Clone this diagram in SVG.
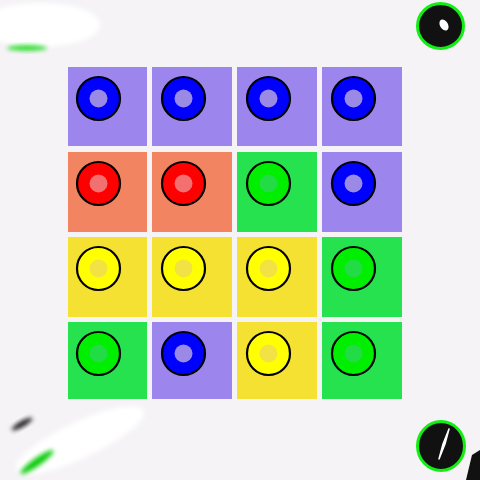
<svg xmlns="http://www.w3.org/2000/svg" width="480" height="480" viewBox="0 0 480 480">
<style>
.cb{fill:#9c86ee}.cr{fill:#f28462}.cg{fill:#26e24e}.cy{fill:#f5e132}
.ring{stroke:#000;stroke-width:2.2}
.pb{fill:#0000ff}.pr{fill:#ff0000}.pg{fill:#00ee00}.py{fill:#ffff00}
.ib{fill:#9a8ae6}.ir{fill:#f27070}.ig{fill:#22dc46}.iy{fill:#f2e244}
</style>
<defs>
<filter id="blur" x="-50%" y="-50%" width="200%" height="200%"><feGaussianBlur stdDeviation="2"/></filter>
</defs>
<rect width="480" height="480" fill="#f5f3f6"/>
<ellipse cx="40" cy="25" rx="60" ry="22" fill="#ffffff" filter="url(#blur)"/>
<ellipse cx="80" cy="440" rx="70" ry="18" fill="#ffffff" filter="url(#blur)" transform="rotate(-25 80 440)"/>
<!-- corner marks -->
<ellipse cx="27" cy="48" rx="20" ry="3" fill="#22dd22" filter="url(#blur)" opacity="0.9"/>
<ellipse cx="22" cy="424" rx="12" ry="3" fill="#222" transform="rotate(-30 22 424)" filter="url(#blur)"/>
<ellipse cx="37" cy="462" rx="20" ry="4" fill="#11cc11" transform="rotate(-35 37 462)" filter="url(#blur)"/>
<g id="eye-top">
<ellipse cx="440.5" cy="26" rx="23" ry="22.5" fill="#111" stroke="#11ee11" stroke-width="3"/>
<ellipse cx="444" cy="25" rx="4" ry="6" fill="#fff" transform="rotate(-30 444 25)"/>
</g>
<g id="eye-bottom">
<ellipse cx="441" cy="446" rx="23.5" ry="24.5" fill="#111" stroke="#11ee11" stroke-width="3"/>
<path d="M449 429 L445 444 L439 459 L443 444 Z" fill="#fff" stroke="#fff" stroke-width="1.5" stroke-linejoin="round"/>
</g>
<path d="M472 455 L480 450 L480 480 L466 480 Z" fill="#111"/>
<!-- row 1 -->
<g id="c11"><rect class="cb" x="68" y="67" width="79" height="79"/><circle class="pb ring" cx="98.5" cy="98.5" r="21.5"/><circle class="ib" cx="98.5" cy="98.5" r="9"/></g>
<g id="c12"><rect class="cb" x="152" y="67" width="80" height="79"/><circle class="pb ring" cx="183.5" cy="98.5" r="21.5"/><circle class="ib" cx="183.5" cy="98.5" r="9"/></g>
<g id="c13"><rect class="cb" x="237" y="67" width="80" height="79"/><circle class="pb ring" cx="268.5" cy="98.5" r="21.5"/><circle class="ib" cx="268.5" cy="98.5" r="9"/></g>
<g id="c14"><rect class="cb" x="322" y="67" width="80" height="79"/><circle class="pb ring" cx="353.5" cy="98.5" r="21.5"/><circle class="ib" cx="353.5" cy="98.5" r="9"/></g>
<!-- row 2 -->
<g id="c21"><rect class="cr" x="68" y="152" width="79" height="80"/><circle class="pr ring" cx="98.5" cy="183.5" r="21.5"/><circle class="ir" cx="98.5" cy="183.5" r="9"/></g>
<g id="c22"><rect class="cr" x="152" y="152" width="80" height="80"/><circle class="pr ring" cx="183.5" cy="183.5" r="21.5"/><circle class="ir" cx="183.5" cy="183.5" r="9"/></g>
<g id="c23"><rect class="cg" x="237" y="152" width="80" height="80"/><circle class="pg ring" cx="268.5" cy="183.5" r="21.5"/><circle class="ig" cx="268.5" cy="183.5" r="9"/></g>
<g id="c24"><rect class="cb" x="322" y="152" width="80" height="80"/><circle class="pb ring" cx="353.5" cy="183.5" r="21.5"/><circle class="ib" cx="353.5" cy="183.5" r="9"/></g>
<!-- row 3 -->
<g id="c31"><rect class="cy" x="68" y="237" width="79" height="80"/><circle class="py ring" cx="98.5" cy="268.5" r="21.5"/><circle class="iy" cx="98.5" cy="268.5" r="9"/></g>
<g id="c32"><rect class="cy" x="152" y="237" width="80" height="80"/><circle class="py ring" cx="183.5" cy="268.5" r="21.5"/><circle class="iy" cx="183.5" cy="268.5" r="9"/></g>
<g id="c33"><rect class="cy" x="237" y="237" width="80" height="80"/><circle class="py ring" cx="268.5" cy="268.5" r="21.5"/><circle class="iy" cx="268.5" cy="268.5" r="9"/></g>
<g id="c34"><rect class="cg" x="322" y="237" width="80" height="80"/><circle class="pg ring" cx="353.5" cy="268.5" r="21.5"/><circle class="ig" cx="353.5" cy="268.5" r="9"/></g>
<!-- row 4 -->
<g id="c41"><rect class="cg" x="68" y="322" width="79" height="77"/><circle class="pg ring" cx="98.5" cy="353.5" r="21.5"/><circle class="ig" cx="98.5" cy="353.5" r="9"/></g>
<g id="c42"><rect class="cb" x="152" y="322" width="80" height="77"/><circle class="pb ring" cx="183.5" cy="353.5" r="21.5"/><circle class="ib" cx="183.5" cy="353.5" r="9"/></g>
<g id="c43"><rect class="cy" x="237" y="322" width="80" height="77"/><circle class="py ring" cx="268.5" cy="353.5" r="21.5"/><circle class="iy" cx="268.5" cy="353.5" r="9"/></g>
<g id="c44"><rect class="cg" x="322" y="322" width="80" height="77"/><circle class="pg ring" cx="353.5" cy="353.5" r="21.5"/><circle class="ig" cx="353.5" cy="353.5" r="9"/></g>
</svg>
